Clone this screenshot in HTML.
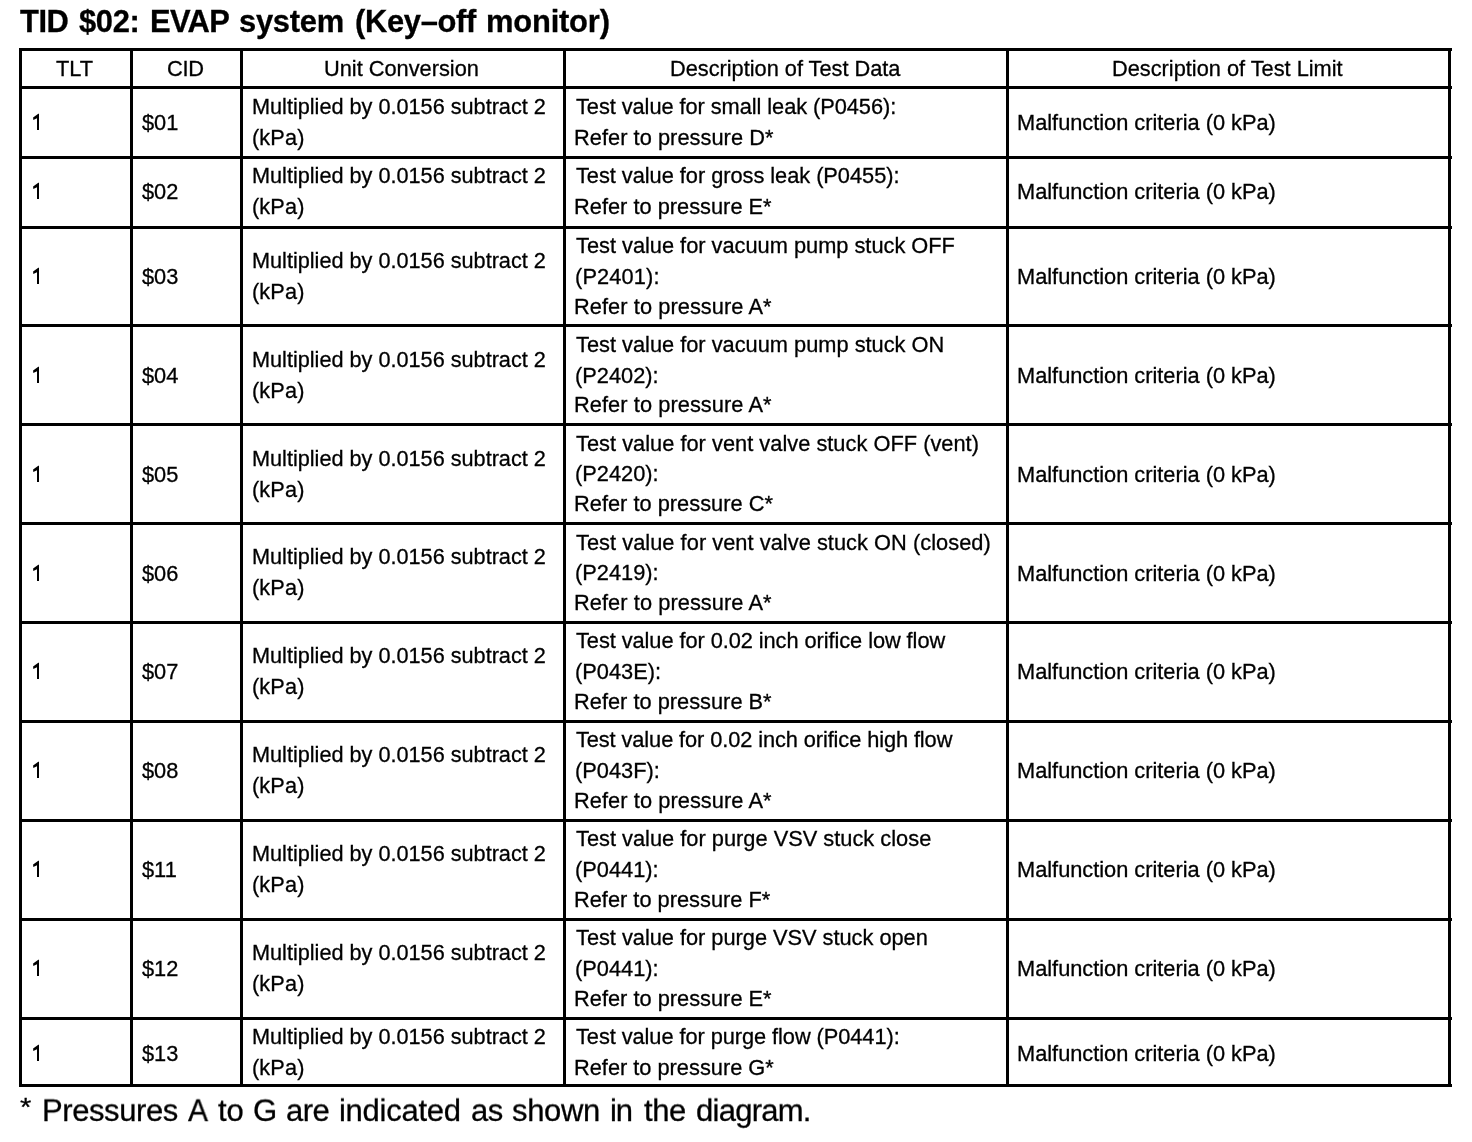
<!DOCTYPE html>
<html><head><meta charset="utf-8"><style>
html,body{margin:0;padding:0;background:#fff;}
body{width:1472px;height:1142px;position:relative;overflow:hidden;}
.l{position:absolute;background:#000;}
.o{position:absolute;fill:#000;}
.t{will-change:transform;-webkit-text-stroke:0.3px #000;position:absolute;white-space:nowrap;font-family:"Liberation Sans",sans-serif;font-size:21.8px;line-height:40px;color:#000;}
</style></head><body>
<div class="l" style="left:19px;top:48px;width:1433px;height:3px"></div>
<div class="l" style="left:19px;top:86px;width:1433px;height:3px"></div>
<div class="l" style="left:19px;top:156px;width:1433px;height:3px"></div>
<div class="l" style="left:19px;top:226px;width:1433px;height:3px"></div>
<div class="l" style="left:19px;top:324px;width:1433px;height:3px"></div>
<div class="l" style="left:19px;top:423px;width:1433px;height:3px"></div>
<div class="l" style="left:19px;top:522px;width:1433px;height:3px"></div>
<div class="l" style="left:19px;top:621px;width:1433px;height:3px"></div>
<div class="l" style="left:19px;top:720px;width:1433px;height:3px"></div>
<div class="l" style="left:19px;top:819px;width:1433px;height:3px"></div>
<div class="l" style="left:19px;top:918px;width:1433px;height:3px"></div>
<div class="l" style="left:19px;top:1017px;width:1433px;height:3px"></div>
<div class="l" style="left:19px;top:1084px;width:1433px;height:3px"></div>
<div class="l" style="left:19px;top:48px;width:3px;height:1039px"></div>
<div class="l" style="left:130px;top:48px;width:3px;height:1039px"></div>
<div class="l" style="left:240px;top:48px;width:3px;height:1039px"></div>
<div class="l" style="left:563px;top:48px;width:3px;height:1039px"></div>
<div class="l" style="left:1006px;top:48px;width:3px;height:1039px"></div>
<div class="l" style="left:1448px;top:48px;width:3px;height:1039px"></div>
<svg class="o" style="left:26px;top:107px" width="20" height="28" viewBox="0 0 20 28"><path d="M7.1,10.6 L12.3,6.8 L13,6.8 L13,23 L11,23 L11,11.3 L7.3,13.1 Z"/></svg>
<svg class="o" style="left:26px;top:176px" width="20" height="28" viewBox="0 0 20 28"><path d="M7.1,10.6 L12.3,6.8 L13,6.8 L13,23 L11,23 L11,11.3 L7.3,13.1 Z"/></svg>
<svg class="o" style="left:26px;top:261px" width="20" height="28" viewBox="0 0 20 28"><path d="M7.1,10.6 L12.3,6.8 L13,6.8 L13,23 L11,23 L11,11.3 L7.3,13.1 Z"/></svg>
<svg class="o" style="left:26px;top:360px" width="20" height="28" viewBox="0 0 20 28"><path d="M7.1,10.6 L12.3,6.8 L13,6.8 L13,23 L11,23 L11,11.3 L7.3,13.1 Z"/></svg>
<svg class="o" style="left:26px;top:459px" width="20" height="28" viewBox="0 0 20 28"><path d="M7.1,10.6 L12.3,6.8 L13,6.8 L13,23 L11,23 L11,11.3 L7.3,13.1 Z"/></svg>
<svg class="o" style="left:26px;top:558px" width="20" height="28" viewBox="0 0 20 28"><path d="M7.1,10.6 L12.3,6.8 L13,6.8 L13,23 L11,23 L11,11.3 L7.3,13.1 Z"/></svg>
<svg class="o" style="left:26px;top:656px" width="20" height="28" viewBox="0 0 20 28"><path d="M7.1,10.6 L12.3,6.8 L13,6.8 L13,23 L11,23 L11,11.3 L7.3,13.1 Z"/></svg>
<svg class="o" style="left:26px;top:755px" width="20" height="28" viewBox="0 0 20 28"><path d="M7.1,10.6 L12.3,6.8 L13,6.8 L13,23 L11,23 L11,11.3 L7.3,13.1 Z"/></svg>
<svg class="o" style="left:26px;top:854px" width="20" height="28" viewBox="0 0 20 28"><path d="M7.1,10.6 L12.3,6.8 L13,6.8 L13,23 L11,23 L11,11.3 L7.3,13.1 Z"/></svg>
<svg class="o" style="left:26px;top:953px" width="20" height="28" viewBox="0 0 20 28"><path d="M7.1,10.6 L12.3,6.8 L13,6.8 L13,23 L11,23 L11,11.3 L7.3,13.1 Z"/></svg>
<svg class="o" style="left:26px;top:1038px" width="20" height="28" viewBox="0 0 20 28"><path d="M7.1,10.6 L12.3,6.8 L13,6.8 L13,23 L11,23 L11,11.3 L7.3,13.1 Z"/></svg>
<div class="t" style="left:20.05px;top:2px;font-size:30.9px;font-weight:bold;letter-spacing:-0.487px;">TID</div>
<div class="t" style="left:79.01px;top:2px;font-size:30.9px;font-weight:bold;letter-spacing:-0.309px;">$02:</div>
<div class="t" style="left:149.79px;top:2px;font-size:30.9px;font-weight:bold;letter-spacing:-0.646px;">EVAP</div>
<div class="t" style="left:239.31px;top:2px;font-size:30.9px;font-weight:bold;letter-spacing:-0.271px;">system</div>
<div class="t" style="left:354.91px;top:2px;font-size:30.9px;font-weight:bold;letter-spacing:-0.321px;">(Key–off</div>
<div class="t" style="left:486.19px;top:2px;font-size:30.9px;font-weight:bold;letter-spacing:-0.190px;">monitor)</div>
<div class="t" style="left:56.02px;top:49px;letter-spacing:0.019px;transform:scale(1.0000,1.03);transform-origin:0 27px;">TLT</div>
<div class="t" style="left:166.64px;top:49px;letter-spacing:-0.282px;transform:scale(1.0000,1.03);transform-origin:0 27px;">CID</div>
<div class="t" style="left:324.09px;top:49px;letter-spacing:-0.009px;transform:scale(1.0000,1.03);transform-origin:0 27px;">Unit Conversion</div>
<div class="t" style="left:670.29px;top:49px;letter-spacing:-0.025px;transform:scale(1.0000,1.03);transform-origin:0 27px;">Description of Test Data</div>
<div class="t" style="left:1112.14px;top:49px;letter-spacing:-0.015px;transform:scale(1.0000,1.03);transform-origin:0 27px;">Description of Test Limit</div>
<div class="t" style="left:141.82px;top:103px;transform:scale(1.0000,1.03);transform-origin:0 27px;">$01</div>
<div class="t" style="left:1017.14px;top:103px;letter-spacing:-0.013px;transform:scale(1.0000,1.03);transform-origin:0 27px;">Malfunction criteria (0 kPa)</div>
<div class="t" style="left:252.29px;top:87px;font-size:21.7px;letter-spacing:-0.011px;transform:scale(1.0000,1.03);transform-origin:0 27px;">Multiplied by 0.0156 subtract 2</div>
<div class="t" style="left:251.94px;top:118px;font-size:21.7px;letter-spacing:0.137px;transform:scale(1.0000,1.03);transform-origin:0 27px;">(kPa)</div>
<div class="t" style="left:575.52px;top:87px;letter-spacing:-0.061px;transform:scale(1.0000,1.03);transform-origin:0 27px;">Test value for small leak (P0456):</div>
<div class="t" style="left:573.89px;top:118px;letter-spacing:0.038px;transform:scale(1.0000,1.03);transform-origin:0 27px;">Refer to pressure D*</div>
<div class="t" style="left:141.82px;top:172px;transform:scale(1.0000,1.03);transform-origin:0 27px;">$02</div>
<div class="t" style="left:1017.14px;top:172px;letter-spacing:-0.013px;transform:scale(1.0000,1.03);transform-origin:0 27px;">Malfunction criteria (0 kPa)</div>
<div class="t" style="left:252.29px;top:156px;font-size:21.7px;letter-spacing:-0.011px;transform:scale(1.0000,1.03);transform-origin:0 27px;">Multiplied by 0.0156 subtract 2</div>
<div class="t" style="left:251.94px;top:187px;font-size:21.7px;letter-spacing:0.137px;transform:scale(1.0000,1.03);transform-origin:0 27px;">(kPa)</div>
<div class="t" style="left:575.52px;top:156px;letter-spacing:-0.036px;transform:scale(1.0000,1.03);transform-origin:0 27px;">Test value for gross leak (P0455):</div>
<div class="t" style="left:573.89px;top:187px;letter-spacing:0.007px;transform:scale(1.0000,1.03);transform-origin:0 27px;">Refer to pressure E*</div>
<div class="t" style="left:141.82px;top:257px;transform:scale(1.0000,1.03);transform-origin:0 27px;">$03</div>
<div class="t" style="left:1017.14px;top:257px;letter-spacing:-0.013px;transform:scale(1.0000,1.03);transform-origin:0 27px;">Malfunction criteria (0 kPa)</div>
<div class="t" style="left:252.29px;top:241px;font-size:21.7px;letter-spacing:-0.011px;transform:scale(1.0000,1.03);transform-origin:0 27px;">Multiplied by 0.0156 subtract 2</div>
<div class="t" style="left:251.94px;top:272px;font-size:21.7px;letter-spacing:0.137px;transform:scale(1.0000,1.03);transform-origin:0 27px;">(kPa)</div>
<div class="t" style="left:575.52px;top:226px;letter-spacing:-0.007px;transform:scale(1.0000,1.03);transform-origin:0 27px;">Test value for vacuum pump stuck OFF</div>
<div class="t" style="left:574.54px;top:257px;letter-spacing:0.130px;transform:scale(1.0000,1.03);transform-origin:0 27px;">(P2401):</div>
<div class="t" style="left:573.89px;top:287px;letter-spacing:0.067px;transform:scale(1.0000,1.03);transform-origin:0 27px;">Refer to pressure A*</div>
<div class="t" style="left:141.82px;top:356px;transform:scale(1.0000,1.03);transform-origin:0 27px;">$04</div>
<div class="t" style="left:1017.14px;top:356px;letter-spacing:-0.013px;transform:scale(1.0000,1.03);transform-origin:0 27px;">Malfunction criteria (0 kPa)</div>
<div class="t" style="left:252.29px;top:340px;font-size:21.7px;letter-spacing:-0.011px;transform:scale(1.0000,1.03);transform-origin:0 27px;">Multiplied by 0.0156 subtract 2</div>
<div class="t" style="left:251.94px;top:371px;font-size:21.7px;letter-spacing:0.137px;transform:scale(1.0000,1.03);transform-origin:0 27px;">(kPa)</div>
<div class="t" style="left:575.52px;top:325px;transform:scale(1.0000,1.03);transform-origin:0 27px;">Test value for vacuum pump stuck ON</div>
<div class="t" style="left:574.54px;top:356px;transform:scale(1.0000,1.03);transform-origin:0 27px;">(P2402):</div>
<div class="t" style="left:573.89px;top:385px;letter-spacing:0.067px;transform:scale(1.0000,1.03);transform-origin:0 27px;">Refer to pressure A*</div>
<div class="t" style="left:141.82px;top:455px;transform:scale(1.0000,1.03);transform-origin:0 27px;">$05</div>
<div class="t" style="left:1017.14px;top:455px;letter-spacing:-0.013px;transform:scale(1.0000,1.03);transform-origin:0 27px;">Malfunction criteria (0 kPa)</div>
<div class="t" style="left:252.29px;top:439px;font-size:21.7px;letter-spacing:-0.011px;transform:scale(1.0000,1.03);transform-origin:0 27px;">Multiplied by 0.0156 subtract 2</div>
<div class="t" style="left:251.94px;top:470px;font-size:21.7px;letter-spacing:0.137px;transform:scale(1.0000,1.03);transform-origin:0 27px;">(kPa)</div>
<div class="t" style="left:575.52px;top:424px;letter-spacing:0.019px;transform:scale(1.0000,1.03);transform-origin:0 27px;">Test value for vent valve stuck OFF (vent)</div>
<div class="t" style="left:574.54px;top:454px;transform:scale(1.0000,1.03);transform-origin:0 27px;">(P2420):</div>
<div class="t" style="left:573.89px;top:484px;letter-spacing:0.012px;transform:scale(1.0000,1.03);transform-origin:0 27px;">Refer to pressure C*</div>
<div class="t" style="left:141.82px;top:554px;transform:scale(1.0000,1.03);transform-origin:0 27px;">$06</div>
<div class="t" style="left:1017.14px;top:554px;letter-spacing:-0.013px;transform:scale(1.0000,1.03);transform-origin:0 27px;">Malfunction criteria (0 kPa)</div>
<div class="t" style="left:252.29px;top:537px;font-size:21.7px;letter-spacing:-0.011px;transform:scale(1.0000,1.03);transform-origin:0 27px;">Multiplied by 0.0156 subtract 2</div>
<div class="t" style="left:251.94px;top:568px;font-size:21.7px;letter-spacing:0.137px;transform:scale(1.0000,1.03);transform-origin:0 27px;">(kPa)</div>
<div class="t" style="left:575.52px;top:523px;letter-spacing:0.039px;transform:scale(1.0000,1.03);transform-origin:0 27px;">Test value for vent valve stuck ON (closed)</div>
<div class="t" style="left:574.54px;top:553px;transform:scale(1.0000,1.03);transform-origin:0 27px;">(P2419):</div>
<div class="t" style="left:573.89px;top:583px;letter-spacing:0.067px;transform:scale(1.0000,1.03);transform-origin:0 27px;">Refer to pressure A*</div>
<div class="t" style="left:141.82px;top:652px;transform:scale(1.0000,1.03);transform-origin:0 27px;">$07</div>
<div class="t" style="left:1017.14px;top:652px;letter-spacing:-0.013px;transform:scale(1.0000,1.03);transform-origin:0 27px;">Malfunction criteria (0 kPa)</div>
<div class="t" style="left:252.29px;top:636px;font-size:21.7px;letter-spacing:-0.011px;transform:scale(1.0000,1.03);transform-origin:0 27px;">Multiplied by 0.0156 subtract 2</div>
<div class="t" style="left:251.94px;top:667px;font-size:21.7px;letter-spacing:0.137px;transform:scale(1.0000,1.03);transform-origin:0 27px;">(kPa)</div>
<div class="t" style="left:575.52px;top:621px;letter-spacing:-0.069px;transform:scale(1.0000,1.03);transform-origin:0 27px;">Test value for 0.02 inch orifice low flow</div>
<div class="t" style="left:574.54px;top:652px;transform:scale(1.0000,1.03);transform-origin:0 27px;">(P043E):</div>
<div class="t" style="left:573.89px;top:682px;letter-spacing:0.007px;transform:scale(1.0000,1.03);transform-origin:0 27px;">Refer to pressure B*</div>
<div class="t" style="left:141.82px;top:751px;transform:scale(1.0000,1.03);transform-origin:0 27px;">$08</div>
<div class="t" style="left:1017.14px;top:751px;letter-spacing:-0.013px;transform:scale(1.0000,1.03);transform-origin:0 27px;">Malfunction criteria (0 kPa)</div>
<div class="t" style="left:252.29px;top:735px;font-size:21.7px;letter-spacing:-0.011px;transform:scale(1.0000,1.03);transform-origin:0 27px;">Multiplied by 0.0156 subtract 2</div>
<div class="t" style="left:251.94px;top:766px;font-size:21.7px;letter-spacing:0.137px;transform:scale(1.0000,1.03);transform-origin:0 27px;">(kPa)</div>
<div class="t" style="left:575.52px;top:720px;letter-spacing:-0.099px;transform:scale(1.0000,1.03);transform-origin:0 27px;">Test value for 0.02 inch orifice high flow</div>
<div class="t" style="left:574.54px;top:751px;transform:scale(1.0000,1.03);transform-origin:0 27px;">(P043F):</div>
<div class="t" style="left:573.89px;top:781px;letter-spacing:0.067px;transform:scale(1.0000,1.03);transform-origin:0 27px;">Refer to pressure A*</div>
<div class="t" style="left:141.82px;top:850px;transform:scale(1.0000,1.03);transform-origin:0 27px;">$11</div>
<div class="t" style="left:1017.14px;top:850px;letter-spacing:-0.013px;transform:scale(1.0000,1.03);transform-origin:0 27px;">Malfunction criteria (0 kPa)</div>
<div class="t" style="left:252.29px;top:834px;font-size:21.7px;letter-spacing:-0.011px;transform:scale(1.0000,1.03);transform-origin:0 27px;">Multiplied by 0.0156 subtract 2</div>
<div class="t" style="left:251.94px;top:865px;font-size:21.7px;letter-spacing:0.137px;transform:scale(1.0000,1.03);transform-origin:0 27px;">(kPa)</div>
<div class="t" style="left:575.52px;top:819px;letter-spacing:0.008px;transform:scale(1.0000,1.03);transform-origin:0 27px;">Test value for purge VSV stuck close</div>
<div class="t" style="left:574.54px;top:850px;transform:scale(1.0000,1.03);transform-origin:0 27px;">(P0441):</div>
<div class="t" style="left:573.89px;top:880px;transform:scale(1.0000,1.03);transform-origin:0 27px;">Refer to pressure F*</div>
<div class="t" style="left:141.82px;top:949px;transform:scale(1.0000,1.03);transform-origin:0 27px;">$12</div>
<div class="t" style="left:1017.14px;top:949px;letter-spacing:-0.013px;transform:scale(1.0000,1.03);transform-origin:0 27px;">Malfunction criteria (0 kPa)</div>
<div class="t" style="left:252.29px;top:933px;font-size:21.7px;letter-spacing:-0.011px;transform:scale(1.0000,1.03);transform-origin:0 27px;">Multiplied by 0.0156 subtract 2</div>
<div class="t" style="left:251.94px;top:964px;font-size:21.7px;letter-spacing:0.137px;transform:scale(1.0000,1.03);transform-origin:0 27px;">(kPa)</div>
<div class="t" style="left:575.52px;top:918px;letter-spacing:-0.022px;transform:scale(1.0000,1.03);transform-origin:0 27px;">Test value for purge VSV stuck open</div>
<div class="t" style="left:574.54px;top:949px;transform:scale(1.0000,1.03);transform-origin:0 27px;">(P0441):</div>
<div class="t" style="left:573.89px;top:979px;letter-spacing:0.007px;transform:scale(1.0000,1.03);transform-origin:0 27px;">Refer to pressure E*</div>
<div class="t" style="left:141.82px;top:1034px;transform:scale(1.0000,1.03);transform-origin:0 27px;">$13</div>
<div class="t" style="left:1017.14px;top:1034px;letter-spacing:-0.013px;transform:scale(1.0000,1.03);transform-origin:0 27px;">Malfunction criteria (0 kPa)</div>
<div class="t" style="left:252.29px;top:1017px;font-size:21.7px;letter-spacing:-0.011px;transform:scale(1.0000,1.03);transform-origin:0 27px;">Multiplied by 0.0156 subtract 2</div>
<div class="t" style="left:251.94px;top:1048px;font-size:21.7px;letter-spacing:0.137px;transform:scale(1.0000,1.03);transform-origin:0 27px;">(kPa)</div>
<div class="t" style="left:575.52px;top:1017px;letter-spacing:-0.066px;transform:scale(1.0000,1.03);transform-origin:0 27px;">Test value for purge flow (P0441):</div>
<div class="t" style="left:573.89px;top:1048px;letter-spacing:-0.009px;transform:scale(1.0000,1.03);transform-origin:0 27px;">Refer to pressure G*</div>
<div class="t" style="left:20.01px;top:1087px;font-size:26px;transform:scale(1.1202,1.0);transform-origin:0 29px;">*</div>
<div class="t" style="left:41.76px;top:1091px;font-size:31px;letter-spacing:-0.409px;transform:scale(1.0000,0.98);transform-origin:0 30px;">Pressures</div>
<div class="t" style="left:188.09px;top:1091px;font-size:31px;transform:scale(0.9660,0.98);transform-origin:0 30px;">A</div>
<div class="t" style="left:217.77px;top:1091px;font-size:31px;letter-spacing:-0.043px;transform:scale(1.0000,0.98);transform-origin:0 30px;">to</div>
<div class="t" style="left:253.01px;top:1091px;font-size:31px;transform:scale(1.0035,0.98);transform-origin:0 30px;">G</div>
<div class="t" style="left:286.15px;top:1091px;font-size:31px;letter-spacing:-0.577px;transform:scale(1.0000,0.98);transform-origin:0 30px;">are</div>
<div class="t" style="left:339.09px;top:1091px;font-size:31px;letter-spacing:-0.265px;transform:scale(1.0000,0.98);transform-origin:0 30px;">indicated</div>
<div class="t" style="left:470.80px;top:1091px;font-size:31px;letter-spacing:-0.468px;transform:scale(1.0000,0.98);transform-origin:0 30px;">as</div>
<div class="t" style="left:512.14px;top:1091px;font-size:31px;letter-spacing:-0.316px;transform:scale(1.0000,0.98);transform-origin:0 30px;">shown</div>
<div class="t" style="left:610.19px;top:1091px;font-size:31px;letter-spacing:-1.196px;transform:scale(1.0000,0.98);transform-origin:0 30px;">in</div>
<div class="t" style="left:643.92px;top:1091px;font-size:31px;letter-spacing:-0.449px;transform:scale(1.0000,0.98);transform-origin:0 30px;">the</div>
<div class="t" style="left:696.07px;top:1091px;font-size:31px;letter-spacing:-0.733px;transform:scale(1.0000,0.98);transform-origin:0 30px;">diagram.</div>
</body></html>
